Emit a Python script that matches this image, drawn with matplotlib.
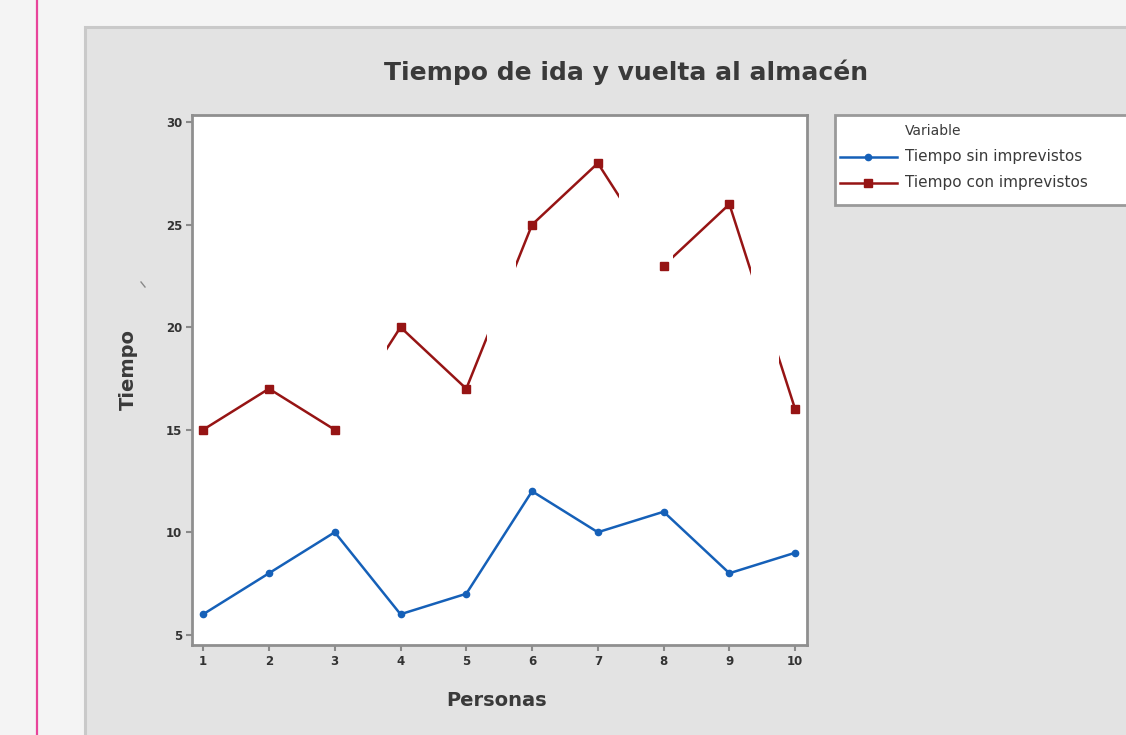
import matplotlib
matplotlib.use("Agg")
import matplotlib.pyplot as plt
from matplotlib.patches import Rectangle
from matplotlib.lines import Line2D

# ---- data ----
personas = [1, 2, 3, 4, 5, 6, 7, 8, 9, 10]
sin_imprevistos = [6, 8, 10, 6, 7, 12, 10, 11, 8, 9]
con_imprevistos = [15, 17, 15, 20, 17, 25, 28, 23, 26, 16]
series_names = ["Tiempo sin imprevistos", "Tiempo con imprevistos"]
yticks = [5, 10, 15, 20, 25, 30]
title = "Tiempo de ida y vuelta al almacén"
xlabel = "Personas"
ylabel = "Tiempo"
# regions of the red line hidden in the original image (x ranges)
hidden_bands = [(3.0, 3.80), (5.32, 5.75), (7.32, 8.15), (9.33, 9.76)]

W, H = 1126, 735
fig = plt.figure(figsize=(W / 100, H / 100), dpi=100)
fig.patch.set_facecolor("#f4f4f4")

def fx(px):
    return px / W

def fy(py):
    return 1 - py / H

# pink vertical line
fig.add_artist(Line2D([fx(37), fx(37)], [0, 1], color="#e8449a", lw=1.6,
                      transform=fig.transFigure, zorder=-10))
# gray panel
fig.add_artist(Rectangle((fx(85), -0.02), 1.0, fy(27) + 0.02,
                         transform=fig.transFigure, facecolor="#e3e3e3",
                         edgecolor="#c9c9c9", lw=2.2, zorder=-10))

ax = fig.add_axes([fx(192), fy(645), fx(807) - fx(192), fy(115) - fy(645)])
ax.set_facecolor("white")

blue = "#1560b8"
red = "#961414"

ax.plot(personas, sin_imprevistos, color=blue, lw=1.8, zorder=2)
ax.plot(personas, sin_imprevistos, ls="none", marker="o", ms=4.5,
        color=blue, zorder=4)
ax.plot(personas, con_imprevistos, color=red, lw=1.8, zorder=2)
for a, b in hidden_bands:
    ax.add_patch(Rectangle((a, 13), b - a, 20, facecolor="white",
                           edgecolor="none", zorder=2.5))
ax.plot(personas, con_imprevistos, ls="none", marker="s", ms=6,
        color=red, zorder=4)

ax.set_xlim(0.83, 10.18)
ax.set_ylim(4.5, 30.35)
ax.set_xticks(personas)
ax.set_yticks(yticks)
ax.tick_params(axis="both", labelsize=8.5, colors="#8a8a8a", labelcolor="#333333",
               length=4, width=1.5, pad=3)
for lab in ax.get_xticklabels() + ax.get_yticklabels():
    lab.set_fontweight("bold")
for s in ax.spines.values():
    s.set_color("#8f8f8f")
    s.set_linewidth(2)

fig.text(fx(626), fy(72), title, ha="center", va="center", fontsize=18,
         fontweight="bold", color="#3a3a3a")
fig.text(fx(497), fy(700), xlabel, ha="center", va="center", fontsize=14,
         fontweight="bold", color="#3a3a3a")
fig.text(fx(128), fy(370), ylabel, ha="center", va="center", fontsize=14,
         fontweight="bold", color="#3a3a3a", rotation=90)
# small stray mark near the y label
fig.add_artist(Line2D([fx(141), fx(145)], [fy(282), fy(287)], color="#888888",
                      lw=1, transform=fig.transFigure, zorder=5))

# legend (manual, cut off at right edge)
fig.add_artist(Rectangle((fx(835), fy(205)), fx(1140) - fx(835), fy(115) - fy(205),
                         transform=fig.transFigure, facecolor="white",
                         edgecolor="#9a9a9a", lw=2, zorder=5))
fig.text(fx(905), fy(131), "Variable", ha="left", va="center", fontsize=10,
         color="#3a3a3a", zorder=6)
for name, col, mk, ms, yy in [(series_names[0], blue, "o", 4.5, 157),
                              (series_names[1], red, "s", 6, 183)]:
    fig.add_artist(Line2D([fx(840), fx(897)], [fy(yy), fy(yy)], color=col, lw=1.8,
                          transform=fig.transFigure, zorder=6))
    fig.add_artist(Line2D([fx(868)], [fy(yy)], color=col, marker=mk, ms=ms,
                          ls="none", transform=fig.transFigure, zorder=6))
    fig.text(fx(905), fy(yy), name, ha="left", va="center", fontsize=11,
             color="#3a3a3a", zorder=6)

fig.savefig("out.png", dpi=100, facecolor=fig.get_facecolor())
